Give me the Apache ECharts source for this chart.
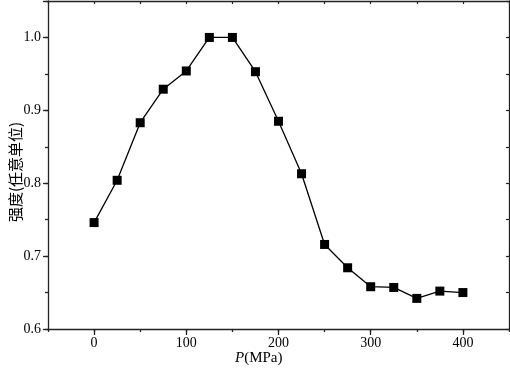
<!DOCTYPE html>
<html>
<head>
<meta charset="utf-8">
<script src="https://cdn.jsdelivr.net/npm/echarts@6/dist/echarts.min.js"></script>
<style>html,body{margin:0;padding:0;background:#fff;}#c{width:510px;height:372px;}</style>
</head>
<body>
<div id="c"></div>
<script>
const pressure = [0, 25, 50, 75, 100, 125, 150, 175, 200, 225, 250, 275, 300, 325, 350, 375, 400];
const intensity = [0.746, 0.804, 0.883, 0.929, 0.954, 1.0, 1.0, 0.953, 0.885, 0.813, 0.716, 0.684, 0.658, 0.657, 0.642, 0.652, 0.650];
const xTickLabels = [0, 100, 200, 300, 400];
const yTickLabels = [0.6, 0.7, 0.8, 0.9, 1.0];
const yAxisName = '强度(任意单位)';
const xAxisNameItalic = 'P';
const xAxisNameRest = '(MPa)';

const serif = 'Liberation Serif';
const axisColor = '#222';
const gridRect = { left: 48, right: 1, top: 1, bottom: 43, containLabel: false, outerBoundsMode: 'none' };
const xMin = -50, xMax = 450, yMin = 0.6, yMax = 1.05;

const chart = echarts.init(document.getElementById('c'));
chart.setOption({
  animation: false,
  backgroundColor: '#fff',
  grid: [
    Object.assign({}, gridRect),
    Object.assign({}, gridRect)
  ],
  xAxis: [
    {
      type: 'value', gridIndex: 0, position: 'bottom', min: xMin, max: xMax,
      axisLine: { show: true, onZero: false, lineStyle: { color: axisColor, width: 1.3 } },
      axisTick: { show: true, inside: false, length: 6, customValues: xTickLabels, lineStyle: { color: axisColor, width: 1.3 } },
      axisLabel: { customValues: xTickLabels, color: '#000', fontFamily: serif, fontSize: 14, margin: 7 },
      splitLine: { show: false }
    },
    {
      type: 'value', gridIndex: 1, position: 'bottom', min: xMin, max: xMax, interval: 50,
      axisLine: { show: false, onZero: false },
      axisTick: { show: true, inside: false, length: 3, lineStyle: { color: axisColor, width: 1.3 } },
      axisLabel: { show: false },
      splitLine: { show: false }
    },
    {
      type: 'value', gridIndex: 1, position: 'top', min: xMin, max: xMax, interval: 50,
      axisLine: { show: true, onZero: false, lineStyle: { color: axisColor, width: 1.3 } },
      axisTick: { show: true, inside: true, length: 3, lineStyle: { color: axisColor, width: 1.2 } },
      axisLabel: { show: false },
      splitLine: { show: false }
    }
  ],
  yAxis: [
    {
      type: 'value', gridIndex: 0, position: 'left', min: yMin, max: yMax, interval: 0.1,
      axisLine: { show: true, onZero: false, lineStyle: { color: axisColor, width: 1.3 } },
      axisTick: { show: true, inside: false, length: 5, lineStyle: { color: axisColor, width: 1.3 } },
      axisLabel: {
        color: '#000', fontFamily: serif, fontSize: 14, margin: 7,
        formatter: function (v) {
          for (const t of yTickLabels) { if (Math.abs(v - t) < 1e-6) return t.toFixed(1); }
          return '';
        }
      },
      splitLine: { show: false }
    },
    {
      type: 'value', gridIndex: 1, position: 'left', min: yMin, max: yMax, interval: 0.05,
      axisLine: { show: false, onZero: false },
      axisTick: { show: true, inside: false, length: 3, lineStyle: { color: axisColor, width: 1.3 } },
      axisLabel: { show: false },
      splitLine: { show: false }
    },
    {
      type: 'value', gridIndex: 1, position: 'right', min: yMin, max: yMax, interval: 0.05,
      axisLine: { show: true, onZero: false, lineStyle: { color: axisColor, width: 1.3 } },
      axisTick: { show: true, inside: true, length: 3, lineStyle: { color: axisColor, width: 1.2 } },
      axisLabel: { show: false },
      splitLine: { show: false }
    }
  ],
  graphic: [
    {
      type: 'text', x: 15, y: 172, rotation: Math.PI / 2,
      style: {
        text: yAxisName, fontFamily: 'Noto Sans CJK SC', fontSize: 15, fill: '#000',
        align: 'center', verticalAlign: 'middle'
      }
    },
    {
      type: 'text', left: 235, top: 351,
      style: {
        text: '{i|' + xAxisNameItalic + '}{n|' + xAxisNameRest + '}',
        rich: {
          i: { fontFamily: serif, fontStyle: 'italic', fontSize: 15, fill: '#000' },
          n: { fontFamily: serif, fontSize: 15, fill: '#000' }
        }
      }
    }
  ],
  series: [
    {
      type: 'line', xAxisIndex: 0, yAxisIndex: 0,
      data: pressure.map((p, i) => [p, intensity[i]]),
      symbol: 'rect', symbolSize: 9,
      lineStyle: { color: '#000', width: 1.3 },
      itemStyle: { color: '#000' },
      clip: false
    }
  ]
});
</script>
</body>
</html>
